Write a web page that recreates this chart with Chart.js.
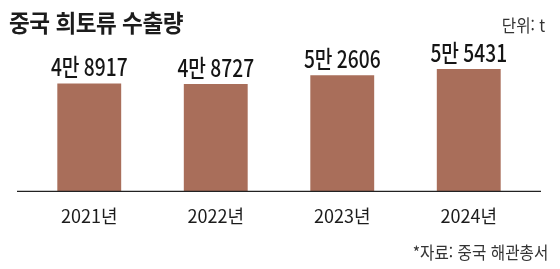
<!DOCTYPE html>
<html lang="ko">
<head>
<meta charset="utf-8">
<script src="https://cdn.jsdelivr.net/npm/chart.js@4/dist/chart.umd.min.js"></script>
<style>
  body { margin:0; background:#fff; }
  #wrap { position:relative; width:560px; height:269px; overflow:hidden; }
  #grafico { position:absolute; left:0; top:0; }
  .txt { position:absolute; font-family:"Noto Sans CJK KR", sans-serif; color:#1c1c1c; white-space:nowrap; line-height:1; }
  #titulo { left:9px; top:10px; font-size:24px; font-weight:bold; letter-spacing:-0.5px; transform:scaleX(0.94); transform-origin:left top; }
  #unidade { right:15px; top:16px; font-size:17px; color:#333; transform:scaleX(0.92); transform-origin:right top; }
  #fonte { right:12px; top:243px; font-size:17px; color:#333; transform:scaleX(0.92); transform-origin:right top; }
</style>
</head>
<body>
<div id="wrap">
  <canvas id="grafico" width="560" height="269"></canvas>
  <div class="txt" id="titulo">중국 희토류 수출량</div>
  <div class="txt" id="unidade">단위: t</div>
  <div class="txt" id="fonte">*자료: 중국 해관총서</div>
</div>
<script>
// --- Dados ---
const anos = ["2021년", "2022년", "2023년", "2024년"];
const exportacoes = [48917, 48727, 52606, 55431];
const eixoMax = 60000;

const corBarra = "#a96e5a";

// formata 48917 -> "4만 8917"
function formatarValor(v) {
    return Math.floor(v / 10000) + "만 " + (v % 10000);
}

// --- Plugin: linha de base e rótulos ---
const rotulos = {
    id: "rotulos",
    afterDatasetsDraw(chart) {
        const ctx = chart.ctx;
        const y0 = chart.scales.y.getPixelForValue(0);
        ctx.save();
        ctx.strokeStyle = "#222";
        ctx.lineWidth = 1.3;
        ctx.beginPath();
        ctx.moveTo(17, y0);
        ctx.lineTo(541, y0);
        ctx.stroke();

        ctx.fillStyle = "#151515";
        ctx.font = "500 24px 'Noto Sans CJK KR', sans-serif";
        ctx.textAlign = "center";
        ctx.textBaseline = "alphabetic";
        chart.getDatasetMeta(0).data.forEach((bar, i) => {
            // texto condensado, como no original
            ctx.save();
            ctx.translate(bar.x, bar.y - 7);
            ctx.scale(0.8, 1);
            ctx.fillText(formatarValor(exportacoes[i]), 0, 0);
            ctx.restore();
        });
        ctx.restore();
    }
};

window.onload = function(){
    new Chart(document.getElementById("grafico"), {
        type: "bar",
        data: {
            labels: anos,
            datasets: [{
                data: exportacoes,
                backgroundColor: corBarra,
                borderWidth: 0,
                categoryPercentage: 1,
                barPercentage: 0.505
            }]
        },
        options: {
            responsive: false,
            animation: false,
            layout: { padding: { left: 26, right: 28, top: 59, bottom: 28 } },
            plugins: { legend: { display: false }, tooltip: { enabled: false } },
            scales: {
                x: {
                    grid: { display: false, drawTicks: false },
                    border: { display: false },
                    ticks: {
                        color: "#1c1c1c",
                        padding: 14,
                        font: { family: "'Noto Sans CJK KR', sans-serif", size: 18 }
                    }
                },
                y: { display: false, min: 0, max: eixoMax }
            }
        },
        plugins: [rotulos]
    });
};
</script>
</body>
</html>
